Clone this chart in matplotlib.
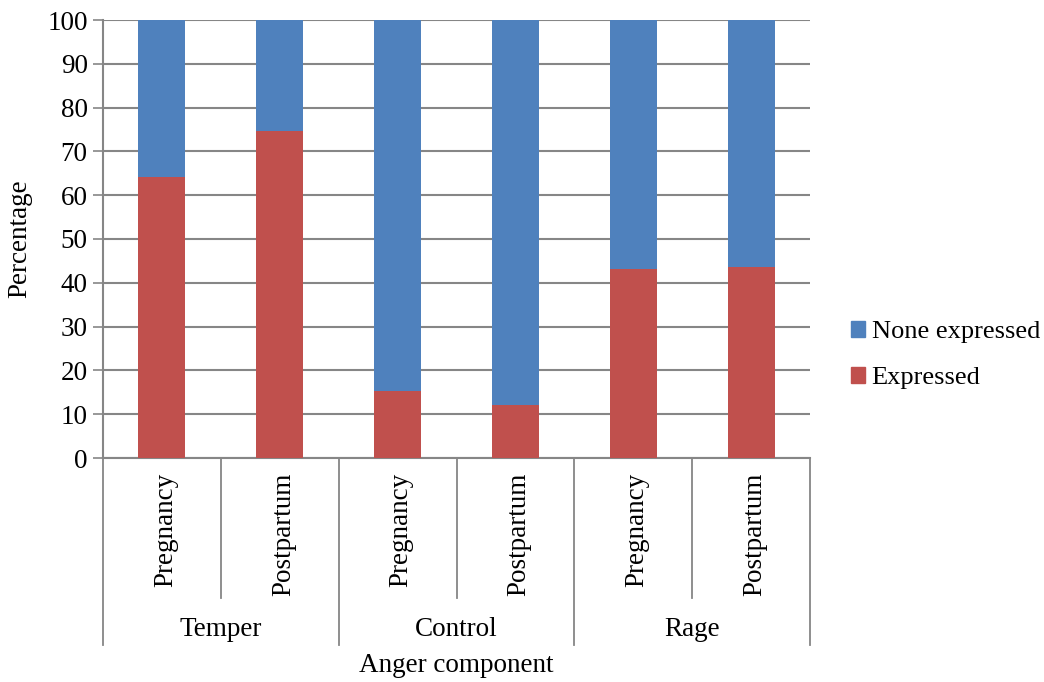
import matplotlib
matplotlib.use("Agg")
import matplotlib.pyplot as plt
from matplotlib.patches import Patch
import matplotlib.transforms as mtransforms

plt.rcParams['font.family'] = ['Liberation Serif', 'DejaVu Serif']

groups = ["Temper", "Control", "Rage"]
periods = ["Pregnancy", "Postpartum"]
expressed = [64.1, 74.7, 15.3, 12.0, 43.2, 43.6]
none_expressed = [35.9, 25.3, 84.7, 88.0, 56.8, 56.4]
yticks = [0, 10, 20, 30, 40, 50, 60, 70, 80, 90, 100]

blue = "#4F81BD"
red = "#C0504D"
grid_c = "#868686"
fs = 19.5

fig = plt.figure(figsize=(10.44, 6.82), dpi=100)
W, H = 1044, 682
left, right, top, bottom = 103, 810, 20, 458
ax = fig.add_axes([left / W, 1 - bottom / H, (right - left) / W, (bottom - top) / H])

n = len(expressed)
x = list(range(n))
ax.bar(x, expressed, width=0.4, color=red, zorder=3)
ax.bar(x, none_expressed, width=0.4, bottom=expressed, color=blue, zorder=3)

ax.set_xlim(-0.5, n - 0.5)
ax.set_ylim(0, 100)
ax.set_yticks(yticks)
ax.set_yticklabels([str(v) for v in yticks], fontsize=fs)
ax.yaxis.grid(True, color=grid_c, linewidth=1.5, zorder=0)
ax.tick_params(axis='y', length=7, width=1.2, color=grid_c, pad=4)
ax.set_xticks([])
for s in ["top", "right"]:
    ax.spines[s].set_visible(False)
for s in ["left", "bottom"]:
    ax.spines[s].set_color(grid_c)
    ax.spines[s].set_linewidth(1.5)

# multi-level category axis drawn below the plot area
trans = mtransforms.blended_transform_factory(ax.transData, fig.transFigure)
y0 = 1 - bottom / H
y_minor = 1 - 598 / H
y_major = 1 - 645 / H
for b in range(n + 1):
    xb = b - 0.5
    y_end = y_major if b % 2 == 0 else y_minor
    ax.plot([xb, xb], [y0, y_end], color=grid_c, linewidth=1.3,
            transform=trans, clip_on=False)

for i in range(n):
    ax.text(i + 0.03, 1 - 473 / H, periods[i % 2], rotation=90, ha='center', va='top',
            fontsize=fs, transform=trans)
for g, name in enumerate(groups):
    ax.text(2 * g + 0.5, 1 - 630 / H, name, ha='center', va='center',
            fontsize=fs, transform=trans)

fig.text((left + right) / 2 / W, 1 - 665 / H, "Anger component", ha='center',
         va='center', fontsize=fs)
fig.text(20 / W, 1 - (top + bottom) / 2 / H, "Percentage", rotation=90,
         ha='center', va='center', fontsize=fs)

handles = [Patch(color=blue, label="None expressed"),
           Patch(color=red, label="Expressed")]
fig.legend(handles=handles, loc='center left', bbox_to_anchor=(840 / W, 1 - 355 / H),
           frameon=False, fontsize=19, handlelength=0.55, handleheight=0.55,
           handletextpad=0.25, labelspacing=0.9, borderaxespad=0)

fig.savefig("out.png", dpi=100)
